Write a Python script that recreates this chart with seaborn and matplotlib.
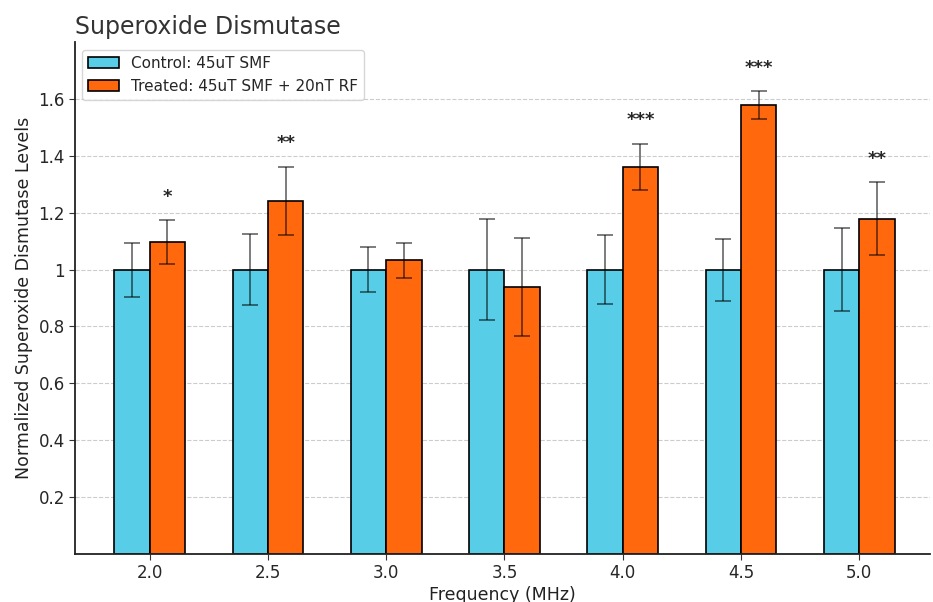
import pandas as pd
import numpy as np
import matplotlib.pyplot as plt
import seaborn as sns

# Data
frequencies = ["2.0", "2.5", "3.0", "3.5", "4.0", "4.5", "5.0"]
control_mean = [1.0, 1.0, 1.0, 1.0, 1.0, 1.0, 1.0]
control_err = [0.095, 0.126, 0.078, 0.179, 0.120, 0.109, 0.145]
treated_mean = [1.097, 1.242, 1.032, 0.940, 1.361, 1.578, 1.179]
treated_err = [0.077, 0.120, 0.063, 0.172, 0.082, 0.050, 0.128]
stars = ["*", "**", "", "", "***", "***", "**"]

control_label = "Control: 45uT SMF"
treated_label = "Treated: 45uT SMF + 20nT RF"

df = pd.DataFrame({
    "Frequency": frequencies * 2,
    "Level": control_mean + treated_mean,
    "Group": [control_label] * len(frequencies) + [treated_label] * len(frequencies),
})

sns.set_style("whitegrid", {"grid.linestyle": "--", "grid.color": "#cccccc"})
plt.rcParams['font.family'] = ['DejaVu Sans']

fig, ax = plt.subplots(figsize=(9.33, 6.02), dpi=100)
fig.subplots_adjust(left=0.080, right=0.997, bottom=0.080, top=0.930)

palette = {control_label: "#57CDE8", treated_label: "#FF680C"}
sns.barplot(data=df, x="Frequency", y="Level", hue="Group", palette=palette,
            width=0.6, edgecolor="black", linewidth=1.2, errorbar=None,
            saturation=1, ax=ax)

# error bars and significance marks
x = np.arange(len(frequencies))
ax.errorbar(x - 0.15, control_mean, yerr=control_err, fmt="none",
            ecolor="black", alpha=0.6, capsize=6, elinewidth=1.2, capthick=1.2)
ax.errorbar(x + 0.15, treated_mean, yerr=treated_err, fmt="none",
            ecolor="black", alpha=0.6, capsize=6, elinewidth=1.2, capthick=1.2)
for xi, m, e, s in zip(x, treated_mean, treated_err, stars):
    if s:
        ax.text(xi + 0.15, m + e + 0.05, s, ha="center", va="bottom",
                fontsize=13, fontweight="bold")

ax.set_xlim(-0.635, 6.6)
ax.set_ylim(0, 1.8)
yt = [0.2, 0.4, 0.6, 0.8, 1.0, 1.2, 1.4, 1.6]
ax.set_yticks(yt)
ax.set_yticklabels([f"{v:g}" for v in yt])
ax.tick_params(axis="both", labelsize=12, length=4, pad=3, color="#333333", left=True, bottom=True)

ax.set_xlabel("Frequency (MHz)", fontsize=12.5, color="#222222", labelpad=3)
ax.set_ylabel("Normalized Superoxide Dismutase Levels", fontsize=12.5, color="#222222", labelpad=4)
ax.set_title("Superoxide Dismutase", loc="left", fontsize=17, color="#333333")

for side in ["top", "right"]:
    ax.spines[side].set_visible(False)
for side in ["left", "bottom"]:
    ax.spines[side].set_color("#222222")
    ax.spines[side].set_linewidth(1.3)

ax.legend(loc="upper left", fontsize=11, frameon=True)

plt.savefig("out.png", dpi=100)
